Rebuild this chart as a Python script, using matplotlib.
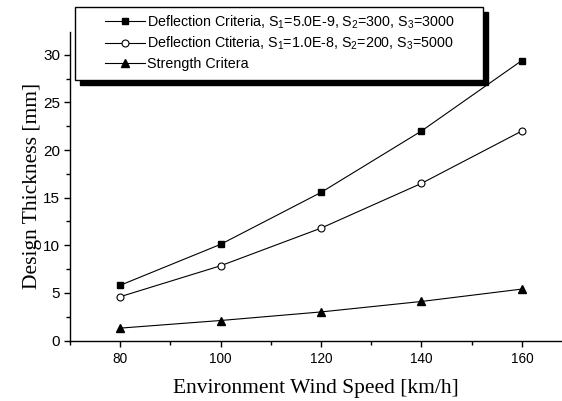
import numpy as np
import matplotlib
matplotlib.use('Agg')
import matplotlib.pyplot as plt
from matplotlib.ticker import MultipleLocator
from matplotlib.patches import Rectangle

# data
speed = [80, 100, 120, 140, 160]
deflection_a = [5.8, 10.1, 15.55, 22.0, 29.4]
deflection_b = [4.6, 7.85, 11.8, 16.5, 22.0]
strength = [1.3, 2.1, 3.0, 4.1, 5.4]

labels = ['Deflection Criteria, S$_1$=5.0E-9, S$_2$=300, S$_3$=3000',
          'Deflection Ctiteria, S$_1$=1.0E-8, S$_2$=200, S$_3$=5000',
          'Strength Critera']

plt.rcParams['font.family'] = 'Liberation Sans'
plt.rcParams['mathtext.fontset'] = 'custom'
plt.rcParams['mathtext.rm'] = 'Liberation Sans'
plt.rcParams['mathtext.it'] = 'Liberation Sans:italic'

W, H = 562, 401
fig = plt.figure(figsize=(W / 100, H / 100), dpi=100)
ax = fig.add_axes([70/W, 1 - 340.5/H, 492/W, 308.5/H])

ax.plot(speed, deflection_a, color='black', lw=0.8, marker='s', ms=5, mfc='black', mec='black', label=labels[0])
ax.plot(speed, deflection_b, color='black', lw=0.8, marker='o', ms=5, mfc='white', mec='black', mew=0.8, label=labels[1])
ax.plot(speed, strength, color='black', lw=0.8, marker='^', ms=6, mfc='black', mec='black', label=labels[2])

ax.set_xlim(70, 168)
ax.set_ylim(0, 32.4)
ax.xaxis.set_major_locator(MultipleLocator(20))
ax.xaxis.set_minor_locator(MultipleLocator(10))
ax.yaxis.set_major_locator(MultipleLocator(5))
ax.yaxis.set_minor_locator(MultipleLocator(2.5))
ax.spines['top'].set_visible(False)
ax.spines['right'].set_visible(False)
for s in ['left', 'bottom']:
    ax.spines[s].set_linewidth(1.0)
ax.tick_params(which='major', direction='out', length=4.5, width=1.0, pad=2.5)
ax.tick_params(which='minor', direction='out', length=3, width=1.0)
ax.tick_params(axis='x', labelsize=9.8, pad=4)
ax.tick_params(axis='y', labelsize=11)

ax.set_xlabel('Environment Wind Speed [km/h]', family='Liberation Serif', fontsize=15.5)
ax.set_ylabel('Design Thickness [mm]', family='Liberation Serif', fontsize=15.5)
ax.xaxis.set_label_coords(0.5, (340.5 - 379) / 308.5)
ax.yaxis.set_label_coords((42 - 70) / 492, 0.5)

# legend box with a solid black shadow
shadow = Rectangle((80/W, 1 - 85/H), 408/W, 73/H, transform=fig.transFigure,
                   facecolor='black', edgecolor='black', clip_on=False, zorder=3.9)
box = Rectangle((75/W, 1 - 80/H), 408/W, 73/H, transform=fig.transFigure,
                facecolor='white', edgecolor='black', lw=1.0, clip_on=False, zorder=4)
ax.add_patch(shadow)
ax.add_patch(box)

leg = ax.legend(loc='center left', bbox_to_anchor=(105/W, 1 - 42/H),
                bbox_transform=fig.transFigure, borderaxespad=0, borderpad=0,
                fontsize=10.3, frameon=False, handlelength=2.8,
                handletextpad=0.15, labelspacing=0.3)
leg.set_zorder(5)

fig.savefig('out.png', dpi=100)
